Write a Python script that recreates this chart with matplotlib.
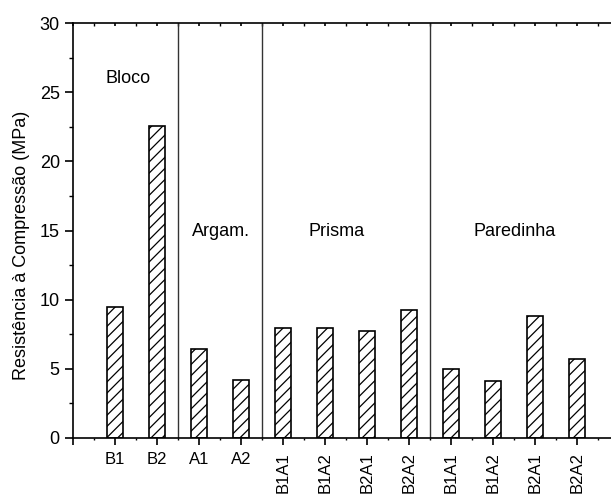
import numpy as np
import matplotlib
matplotlib.use('Agg')
import matplotlib.pyplot as plt
from matplotlib.ticker import MultipleLocator

# ----------------------------------------------------------------------------------------------------------------------
# data
labels = ['B1', 'B2', 'A1', 'A2', 'B1A1', 'B1A2', 'B2A1', 'B2A2', 'B1A1', 'B1A2', 'B2A1', 'B2A2']
values = [9.45, 22.56, 6.43, 4.22, 7.95, 7.93, 7.76, 9.23, 5.01, 4.14, 8.84, 5.69]
groups = ['Bloco', 'Argam.', 'Prisma', 'Paredinha']
group_edges = [2.5, 4.5, 8.5]
# ----------------------------------------------------------------------------------------------------------------------

plt.rcParams['font.family'] = ['Liberation Sans', 'DejaVu Sans']
plt.rcParams['hatch.linewidth'] = 0.9

fig = plt.figure(figsize=(6.11, 4.96), dpi=100)
ax = fig.add_axes([73 / 611, 58 / 496, 546 / 611, 415 / 496])

pos = np.arange(1, len(values) + 1)
ax.bar(pos, values, width=0.4, color='white', edgecolor='black', linewidth=1.2, hatch='///')

for x_sep in group_edges:
    ax.axvline(x_sep, color='#333333', linewidth=1.0)

# group titles
ax.text(1.32, 26.0, groups[0], ha='center', va='center', fontsize=13)
ax.text(3.52, 14.9, groups[1], ha='center', va='center', fontsize=13)
ax.text(6.28, 14.9, groups[2], ha='center', va='center', fontsize=13)
ax.text(10.52, 14.9, groups[3], ha='center', va='center', fontsize=13)

ax.set_xlim(0, 13)
ax.set_ylim(0, 30)

ax.set_xticks(np.arange(0, 13))
ax.set_xticklabels([''] + labels)
for i, lab in enumerate(ax.get_xticklabels()):
    if i >= 5:
        lab.set_rotation(90)
ax.xaxis.set_minor_locator(MultipleLocator(0.5))
ax.yaxis.set_major_locator(MultipleLocator(5))
ax.yaxis.set_minor_locator(MultipleLocator(2.5))

# y axis ticks
ax.tick_params(axis='y', which='major', direction='out', length=6, width=1.2, labelsize=13)
ax.tick_params(axis='y', which='minor', direction='out', length=3, width=1.0)
# x axis ticks, bottom outward and top inward
ax.tick_params(axis='x', which='major', direction='out', length=5, width=1.2, labelsize=12, pad=5)
ax.tick_params(axis='x', which='minor', direction='out', length=1.5, width=1.0)
ax.tick_params(axis='x', which='both', top=True)
for tick in ax.xaxis.get_major_ticks() + ax.xaxis.get_minor_ticks():
    tick.tick2line.set_marker(3)
    tick.tick2line.set_markersize(2.5)

for side in ['left', 'bottom', 'top']:
    ax.spines[side].set_linewidth(1.2)
ax.spines['right'].set_visible(False)

ax.set_ylabel('Resistência à Compressão (MPa)', fontsize=13)
ax.yaxis.set_label_coords(-0.078, 0.463)

fig.savefig('out.png', dpi=100)
